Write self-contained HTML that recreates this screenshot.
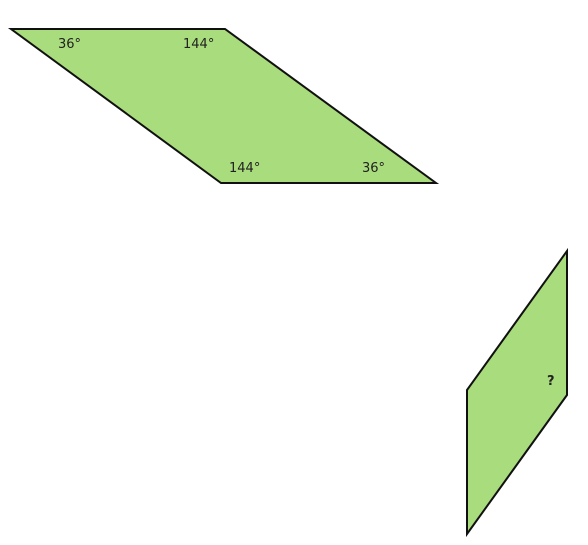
<!DOCTYPE html>
<html><head><meta charset="utf-8"><style>
html,body{margin:0;padding:0;background:#fff;width:588px;height:545px;overflow:hidden}
svg{display:block}
text{font-family:"DejaVu Sans","Liberation Sans",sans-serif;font-size:13px;fill:#222}
</style></head><body>
<svg width="588" height="545" viewBox="0 0 588 545">
<polygon points="11,29 225,29 436,183 221,183" fill="#a9dc7c" stroke="#111" stroke-width="2" stroke-linejoin="miter"/>
<text x="58" y="48">36°</text>
<text x="183" y="48">144°</text>
<text x="229" y="172">144°</text>
<text x="362" y="172">36°</text>
<polygon points="467,390 567,251 567,395 467,534" fill="#a9dc7c" stroke="#111" stroke-width="2"/>
<text x="547" y="385" style="font-weight:bold">?</text>
</svg>
</body></html>
